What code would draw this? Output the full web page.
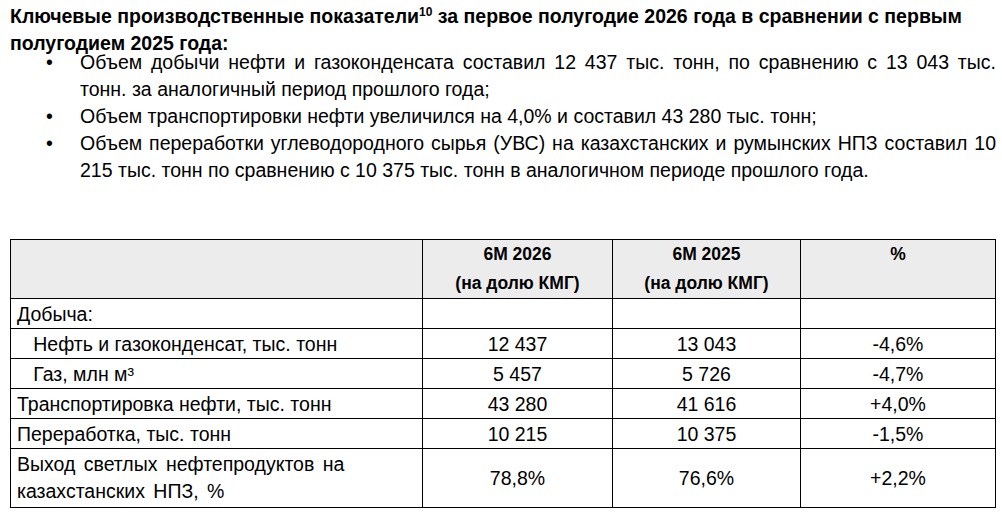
<!DOCTYPE html>
<html><head><meta charset="utf-8">
<script src="https://cdn.jsdelivr.net/npm/chart.js@4/dist/chart.umd.min.js"></script>
<style>
body{margin:0;width:1002px;height:514px;overflow:hidden;background:#fff;font-family:"Liberation Sans",Arial,sans-serif;color:#000}
h1{font-size:19.5px;font-weight:bold;margin:0;position:absolute;left:10px;top:3px;width:985px;line-height:27px}
h1 sup{font-size:12px;line-height:0;vertical-align:7px}
ul{position:absolute;left:46px;top:49px;margin:0;padding:0;list-style:none;width:950px}
li{position:relative;padding-left:34px;font-size:19.5px;line-height:27px;text-align:justify}
li:before{content:"•";position:absolute;left:0;top:0}
table{position:absolute;left:10px;top:239px;border-collapse:collapse;font-size:19.5px}
td{border:1px solid #000;padding:0 6px;height:29px;line-height:22px}
thead td{background:#ececec;font-weight:bold;text-align:center;vertical-align:top;height:58px;font-size:17.5px;line-height:29px}
td.n{text-align:center}
</style></head><body>
<h1>Ключевые производственные показатели<sup>10</sup> за первое полугодие 2026 года в сравнении с первым полугодием 2025 года:</h1>
<ul id="bul"></ul>
<table id="tbl"><thead></thead><tbody></tbody></table>
<script>
// bullets
const bullets = [
  "Объем добычи нефти и газоконденсата составил 12 437 тыс. тонн, по сравнению с 13 043 тыс. тонн. за аналогичный период прошлого года;",
  "Объем транспортировки нефти увеличился на 4,0% и составил 43 280 тыс. тонн;",
  "Объем переработки углеводородного сырья (УВС) на казахстанских и румынских НПЗ составил 10 215 тыс. тонн по сравнению с 10 375 тыс. тонн в аналогичном периоде прошлого года."
];
// table
const headers = ["", "6M 2026<br>(на долю КМГ)", "6M 2025<br>(на долю КМГ)", "%"];
const rowLabels = ["Добыча:", "&nbsp;&nbsp;&nbsp;Нефть и газоконденсат, тыс. тонн", "&nbsp;&nbsp;&nbsp;Газ, млн м³",
  "Транспортировка нефти, тыс. тонн", "Переработка, тыс. тонн", "Выход светлых нефтепродуктов на<br>казахстанских НПЗ, %"];
const values2026 = ["", "12 437", "5 457", "43 280", "10 215", "78,8%"];
const values2025 = ["", "13 043", "5 726", "41 616", "10 375", "76,6%"];
const changes = ["", "-4,6%", "-4,7%", "+4,0%", "-1,5%", "+2,2%"];

document.getElementById("bul").innerHTML = bullets.map(b => `<li>${b}</li>`).join("");
const widths = [412, 190, 188, 195];
document.querySelector("thead").innerHTML = "<tr>" + headers.map((h, i) => `<td style="width:${widths[i]-13}px">${h}</td>`).join("") + "</tr>";
let body = "";
rowLabels.forEach((l, i) => {
  const last = i === rowLabels.length - 1;
  const st = last ? ' style="height:58px;line-height:27px;word-spacing:3px"' : "";
  body += `<tr><td${st}>${l}</td><td class="n">${values2026[i]}</td><td class="n">${values2025[i]}</td><td class="n">${changes[i]}</td></tr>`;
});
document.querySelector("tbody").innerHTML = body;
</script>
</body></html>
